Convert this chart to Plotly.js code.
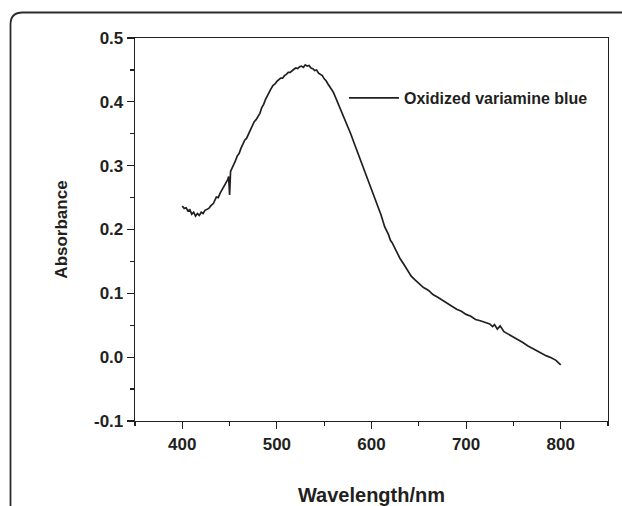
<!DOCTYPE html>
<html>
<head>
<meta charset="utf-8">
<script src="https://cdn.plot.ly/plotly-3.0.1.min.js"></script>
<style>html,body{margin:0;padding:0;background:#fff;}#chart{width:622px;height:506px;}</style>
</head>
<body>
<div id="chart"></div>
<script>
var seriesName = "Oxidized variamine blue";
var wavelength = [400,402,404,406,408,410,412,414,416,418,420,422,424,426,428,430,433,436,438,440,442,445,448,449,450,451,454,456,458,460,462,464,466,468,470,472,474,476,478,480,482,484,486,488,490,492,494,496,498,500,502,504,506,508,510,512,514,516,518,520,522,524,526,528,530,532,534,536,538,540,542,544,546,548,550,552,554,556,558,560,562,566,570,574,578,582,586,590,594,598,602,606,610,614,618,620,622,626,630,634,638,642,646,650,655,660,665,670,675,680,685,690,695,700,705,710,715,720,725,728,730,733,736,740,745,750,755,760,765,770,775,780,785,790,795,800];
var absorbance = [0.237,0.233,0.234,0.229,0.231,0.224,0.227,0.221,0.225,0.222,0.227,0.225,0.230,0.232,0.233,0.237,0.241,0.251,0.250,0.257,0.262,0.270,0.278,0.283,0.254,0.291,0.300,0.307,0.315,0.319,0.327,0.333,0.340,0.343,0.350,0.357,0.362,0.369,0.372,0.378,0.382,0.391,0.396,0.404,0.410,0.417,0.421,0.426,0.428,0.432,0.434,0.437,0.437,0.441,0.443,0.446,0.446,0.449,0.451,0.453,0.452,0.455,0.456,0.454,0.458,0.456,0.457,0.453,0.452,0.449,0.450,0.445,0.443,0.441,0.436,0.433,0.428,0.424,0.419,0.414,0.407,0.392,0.380,0.366,0.350,0.334,0.318,0.303,0.288,0.272,0.255,0.238,0.223,0.204,0.192,0.183,0.179,0.167,0.155,0.146,0.136,0.127,0.121,0.116,0.109,0.105,0.098,0.094,0.089,0.085,0.080,0.075,0.072,0.067,0.064,0.059,0.057,0.054,0.052,0.048,0.051,0.044,0.049,0.040,0.036,0.032,0.027,0.023,0.018,0.014,0.009,0.006,0.002,-0.001,-0.005,-0.012];
var xTickVals = [400,500,600,700,800];
var xTickText = ["400","500","600","700","800"];
var yTickVals = [-0.1,0.0,0.1,0.2,0.3,0.4,0.5];
var yTickText = ["-0.1","0.0","0.1","0.2","0.3","0.4","0.5"];
var xTitle = "Wavelength/nm";
var yTitle = "Absorbance";

var ink = "#231f20";
var fontFam = "Liberation Sans, Arial, sans-serif";

var L = 135, R = 14, T = 38, B = 85, W = 622, H = 506;
var pw = W - L - R, ph = H - T - B;
function px2x(p){ return (p - L) / pw; }
function py2y(p){ return (H - B - p) / ph; }
var fx0 = px2x(10.5), fy0 = py2y(12.5), fr = 12;
var framePath = "M " + fx0 + "," + py2y(530) +
  " L " + fx0 + "," + py2y(12.5 + fr) +
  " Q " + fx0 + "," + fy0 + " " + px2x(10.5 + fr) + "," + fy0 +
  " L " + px2x(640) + "," + fy0;

var trace = {
  x: wavelength, y: absorbance, type: "scatter", mode: "lines",
  name: seriesName, line: {color: ink, width: 1.7}
};

var layout = {
  width: W, height: H,
  margin: {l: L, r: R, t: T, b: B},
  paper_bgcolor: "#ffffff", plot_bgcolor: "#ffffff",
  showlegend: true,
  legend: {x: px2x(344), y: py2y(81), xanchor: "left", yanchor: "top", itemwidth: 50,
    bgcolor: "rgba(0,0,0,0)", font: {family: fontFam, size: 16, color: ink, weight: "bold"}},
  xaxis: {
    range: [350, 850], showgrid: false, zeroline: false,
    showline: true, mirror: true, linecolor: ink, linewidth: 1.3,
    tickmode: "array", tickvals: xTickVals, ticktext: xTickText,
    ticks: "outside", ticklen: 7, tickwidth: 1.2, tickcolor: ink,
    minor: {dtick: 50, tick0: 350, ticks: "outside", ticklen: 3.5, tickwidth: 1.2, tickcolor: ink, showgrid: false},
    tickfont: {family: fontFam, size: 17, color: ink, weight: "bold"},
    title: {text: xTitle, standoff: 38, font: {family: fontFam, size: 20, color: ink, weight: "bold"}}
  },
  yaxis: {
    range: [-0.1, 0.5], showgrid: false, zeroline: false,
    showline: true, mirror: true, linecolor: ink, linewidth: 1.3,
    tickmode: "array", tickvals: yTickVals, ticktext: yTickText,
    ticks: "outside", ticklen: 7, tickwidth: 1.2, tickcolor: ink,
    minor: {dtick: 0.05, tick0: 0, ticks: "outside", ticklen: 3.5, tickwidth: 1.2, tickcolor: ink, showgrid: false},
    tickfont: {family: fontFam, size: 17, color: ink, weight: "bold"},
    title: {text: yTitle, standoff: 22, font: {family: fontFam, size: 17, color: ink, weight: "bold"}}
  },
  shapes: [{type: "path", xref: "paper", yref: "paper", path: framePath,
    line: {color: "#2b2b2b", width: 1.8}, layer: "below"}]
};

Plotly.newPlot("chart", [trace], layout, {displayModeBar: false, staticPlot: true});
</script>
</body>
</html>
